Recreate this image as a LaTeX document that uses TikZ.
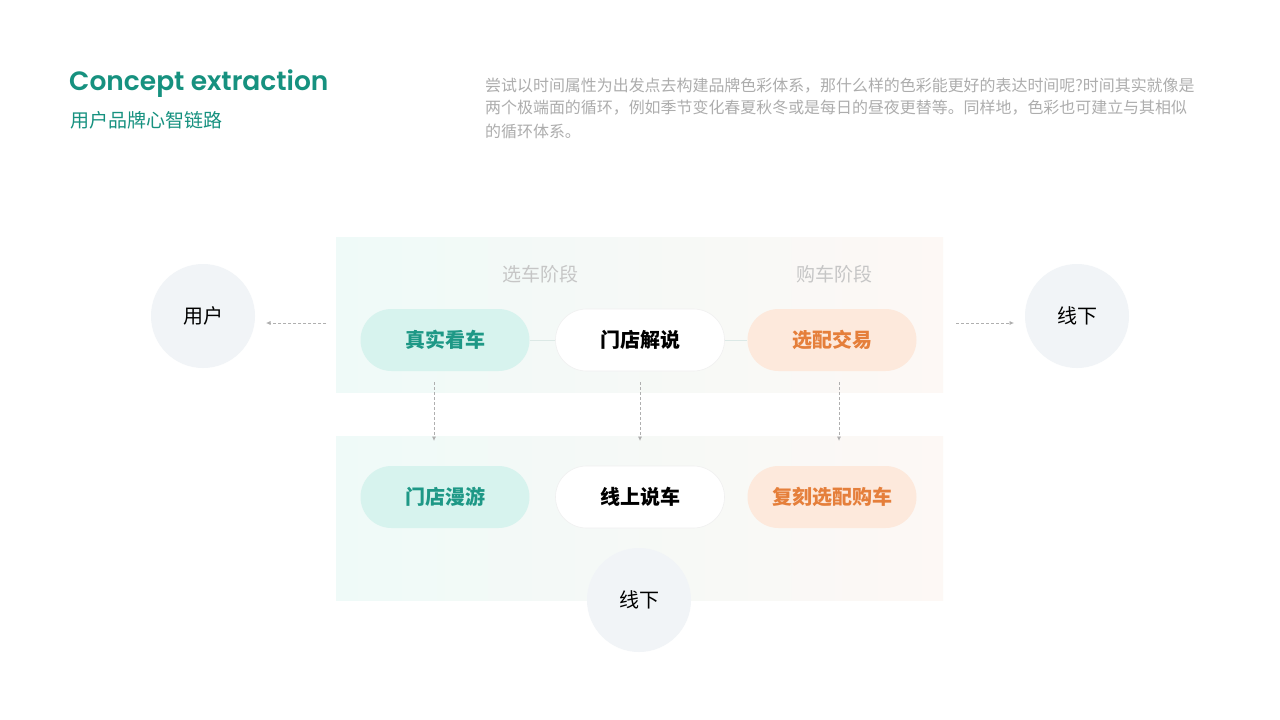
\documentclass[tikz,border=0pt]{standalone}
\usepackage{fontspec}
\setmainfont{Noto Sans CJK SC}
\newfontfamily\cjk{Noto Sans CJK SC}
\newfontfamily\titlefont{Poppins}[UprightFont=* SemiBold]
\usetikzlibrary{arrows.meta,calc}
\definecolor{teal0}{HTML}{16917F}
\definecolor{tealtxt}{HTML}{1E9886}
\definecolor{tealfill}{HTML}{D7F3EE}
\definecolor{orgtxt}{HTML}{E57F3B}
\definecolor{orgfill}{HTML}{FDE9DC}
\definecolor{bandL}{HTML}{EFFAF8}
\definecolor{bandR}{HTML}{FDF8F5}
\definecolor{parag}{HTML}{ADADAD}
\definecolor{stage}{HTML}{C6C6C6}
\definecolor{circfill}{HTML}{F1F4F7}
\definecolor{arrowc}{HTML}{AFAFAF}
\definecolor{linkc}{HTML}{DCE9E6}
\tikzset{
  pill/.style={rectangle, rounded corners=31pt, minimum width=169pt, minimum height=62pt, inner sep=0pt, font=\cjk\bfseries\fontsize{20}{24}\selectfont},
  tealpill/.style={pill, fill=tealfill, text=tealtxt},
  whitepill/.style={pill, fill=white, draw=black!6, line width=0.6pt, text=black},
  orgpill/.style={pill, fill=orgfill, text=orgtxt},
  circ/.style={circle, fill=circfill, minimum size=104pt, inner sep=0pt, font=\cjk\fontsize{20}{24}\selectfont},
  stagelbl/.style={text=stage, font=\cjk\fontsize{19}{22}\selectfont, inner sep=0pt},
  parline/.style={anchor=west, text=parag, font=\cjk\fontsize{15.95}{18}\selectfont, inner sep=0pt},
  dasharrow/.style={draw=arrowc, line width=0.7pt, dash pattern=on 3pt off 2pt, -{Latex[length=4.5pt,width=4pt]}},
  link/.style={draw=linkc, line width=1pt}
}
\begin{document}
\begin{tikzpicture}[x=1pt,y=-1pt]
\useasboundingbox (0,0) rectangle (1280,720);
\fill[white] (0,0) rectangle (1280,720);
% bands
\shade[left color=bandL, right color=bandR] (336,237) rectangle (943,392);
\shade[left color=bandL, right color=bandR] (336,436) rectangle (943,600);
% title
\node[anchor=west, inner sep=0pt, text=teal0, font=\titlefont\fontsize{26.5}{32}\selectfont] (title) at (69,84) {Concept extraction};
\node[anchor=west, inner sep=0pt, text=teal0, font=\cjk\fontsize{19}{22}\selectfont] (subtitle) at (70,120) {用户品牌心智链路};
% paragraph
\node[parline] (p1) at (485,86) {尝试以时间属性为出发点去构建品牌色彩体系，那什么样的色彩能更好的表达时间呢?时间其实就像是};
\node[parline] (p2) at (485,108) {两个极端面的循环，例如季节变化春夏秋冬或是每日的昼夜更替等。同样地，色彩也可建立与其相似};
\node[parline] (p3) at (485,131) {的循环体系。};
% stage labels
\node[stagelbl] (s1) at (540,274) {选车阶段};
\node[stagelbl] (s2) at (834,274) {购车阶段};
% pills
\node[tealpill] (t1) at (445,340) {真实看车};
\node[whitepill] (t2) at (640,340) {门店解说};
\node[orgpill] (t3) at (832,340) {选配交易};
\node[tealpill] (b1) at (445,497) {门店漫游};
\node[whitepill] (b2) at (640,497) {线上说车};
\node[orgpill] (b3) at (832,497) {复刻选配购车};
\draw[link] (t1.east) -- (t2.west);
\draw[link] (t2.east) -- (t3.west);
% circles
\node[circ] (user) at (203,316) {用户};
\node[circ] (offR) at (1077,316) {线下};
\node[circ] (offB) at (639,600) {线下};
% arrow coordinates
\coordinate (aL1) at (326,323); \coordinate (aL2) at (266,323);
\coordinate (aR1) at (956,323); \coordinate (aR2) at (1014,323);
\coordinate (v1a) at (434,382); \coordinate (v1b) at (434,441);
\coordinate (v2a) at (640,382); \coordinate (v2b) at (640,441);
\coordinate (v3a) at (839,382); \coordinate (v3b) at (839,441);
\draw[dasharrow] (aL1) -- (aL2);
\draw[dasharrow] (aR1) -- (aR2);
\draw[dasharrow] (v1a) -- (v1b);
\draw[dasharrow] (v2a) -- (v2b);
\draw[dasharrow] (v3a) -- (v3b);
\end{tikzpicture}
\end{document}
